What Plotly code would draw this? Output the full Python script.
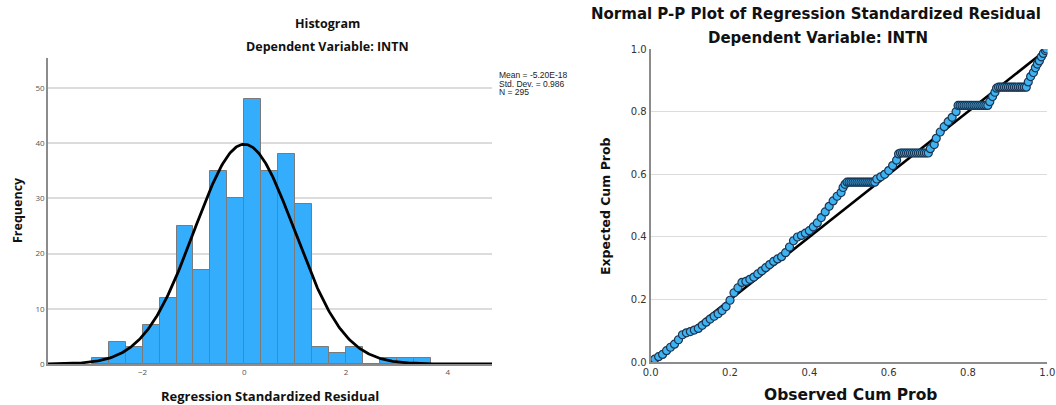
import numpy as np
import plotly.graph_objects as go

W, H = 1056, 405

# ---------------- Histogram data ----------------
bin_width = 1.0 / 3.0
bin_left_edges = [-3.0, -8/3, -7/3, -2.0, -5/3, -4/3, -1.0, -2/3, -1/3, 0.0,
                  1/3, 2/3, 1.0, 4/3, 5/3, 2.0, 7/3, 8/3, 3.0, 10/3]
frequency = [1, 4, 3, 7, 12, 25, 17, 35, 30, 48, 35, 38, 29, 3, 2, 3, 0, 1, 1, 1]
resid_mean = -5.20e-18
resid_sd = 0.986
n_obs = 295
hist_x_ticks = [-2, 0, 2, 4]
hist_y_ticks = [0, 10, 20, 30, 40, 50]
stats_lines = ["Mean = -5.20E-18", "Std. Dev. = 0.986", "N = 295"]

# ---------------- P-P plot data ----------------
pp_observed = [0.003, 0.01, 0.02, 0.03, 0.04, 0.05, 0.06, 0.07, 0.08, 0.09,
               0.10, 0.11, 0.12, 0.13, 0.14, 0.15, 0.16, 0.17, 0.18, 0.19,
               0.20, 0.21, 0.22, 0.23, 0.24, 0.25, 0.26, 0.27, 0.28, 0.29,
               0.30, 0.31, 0.32, 0.33, 0.34, 0.35, 0.36, 0.37, 0.38, 0.39,
               0.40, 0.41, 0.42, 0.43, 0.44, 0.45, 0.46, 0.47, 0.48, 0.485,
               0.49, 0.495, 0.50, 0.505, 0.51, 0.515, 0.52, 0.525, 0.53, 0.535,
               0.54, 0.545, 0.55, 0.555, 0.56, 0.565,
               0.57, 0.58, 0.59, 0.60, 0.61, 0.62, 0.625,
               0.63, 0.635, 0.64, 0.645, 0.65, 0.655, 0.66, 0.665, 0.67, 0.675,
               0.68, 0.685, 0.69, 0.695, 0.70,
               0.705, 0.715, 0.72, 0.73, 0.74, 0.75, 0.76, 0.77,
               0.775, 0.78, 0.785, 0.79, 0.795, 0.80, 0.805, 0.81, 0.815, 0.82,
               0.825, 0.83, 0.835, 0.84, 0.845, 0.85,
               0.855, 0.862, 0.868, 0.872,
               0.877, 0.882, 0.887, 0.892, 0.897, 0.902, 0.907, 0.912, 0.917,
               0.922, 0.927, 0.932, 0.937, 0.942, 0.947,
               0.952, 0.958, 0.965, 0.97, 0.975, 0.98, 0.985, 0.99, 0.995, 0.998]
pp_expected = [0.005, 0.010, 0.018, 0.025, 0.037, 0.048, 0.058, 0.072, 0.088, 0.094,
               0.098, 0.103, 0.108, 0.118, 0.128, 0.138, 0.147, 0.155, 0.165, 0.178,
               0.198, 0.222, 0.238, 0.255, 0.258, 0.265, 0.272, 0.282, 0.292, 0.302,
               0.312, 0.322, 0.330, 0.337, 0.350, 0.368, 0.388, 0.400, 0.405, 0.412,
               0.420, 0.432, 0.445, 0.462, 0.480, 0.498, 0.515, 0.530, 0.542, 0.558,
               0.568, 0.575, 0.575, 0.575, 0.575, 0.575, 0.575, 0.575, 0.575, 0.575,
               0.575, 0.575, 0.575, 0.575, 0.575, 0.575,
               0.585, 0.592, 0.600, 0.612, 0.628, 0.645, 0.665,
               0.668, 0.668, 0.668, 0.668, 0.668, 0.668, 0.668, 0.668, 0.668, 0.668,
               0.668, 0.668, 0.668, 0.668, 0.668,
               0.682, 0.695, 0.715, 0.735, 0.752, 0.768, 0.782, 0.800,
               0.820, 0.820, 0.820, 0.820, 0.820, 0.820, 0.820, 0.820, 0.820, 0.820,
               0.820, 0.820, 0.820, 0.820, 0.820, 0.820,
               0.832, 0.848, 0.862, 0.875,
               0.878, 0.878, 0.878, 0.878, 0.878, 0.878, 0.878, 0.878, 0.878,
               0.878, 0.878, 0.878, 0.878, 0.878, 0.878,
               0.895, 0.912, 0.925, 0.940, 0.952, 0.962, 0.975, 0.986, 0.995, 1.000]
pp_ticks = [0.0, 0.2, 0.4, 0.6, 0.8, 1.0]

# ---------------- helpers ----------------
def px(x):
    return x / W

def py(y):
    return 1 - y / H

HIST_FONT = "Open Sans"
PP_FONT = "DejaVu Sans"
AXIS_GRAY = "#8c8c8c"
GRID = "#dcdcdc"

fig = go.Figure()

# histogram bars
bar_centers = [e + bin_width / 2 for e in bin_left_edges]
fig.add_trace(go.Bar(
    x=bar_centers, y=frequency, width=bin_width,
    marker=dict(color="#33adfc", line=dict(color="#7a7a7a", width=1)),
    xaxis="x", yaxis="y", showlegend=False, hoverinfo="skip"))

# normal curve
hist_xrange = [-3.86, 4.87]
xc = np.linspace(hist_xrange[0], hist_xrange[1], 400)
yc = n_obs * bin_width * np.exp(-0.5 * ((xc - resid_mean) / resid_sd) ** 2) / (resid_sd * np.sqrt(2 * np.pi))
fig.add_trace(go.Scatter(x=xc, y=yc, mode="lines", line=dict(color="black", width=2.8),
                         xaxis="x", yaxis="y", showlegend=False, hoverinfo="skip"))

# P-P diagonal
fig.add_trace(go.Scatter(x=[0, 1], y=[0, 1], mode="lines", line=dict(color="black", width=2.6),
                         xaxis="x2", yaxis="y2", showlegend=False, hoverinfo="skip"))
# P-P points
fig.add_trace(go.Scatter(x=pp_observed, y=pp_expected, mode="markers",
                         marker=dict(size=8, color="#3fb2f2", line=dict(color="#1d3550", width=1.2)),
                         xaxis="x2", yaxis="y2", showlegend=False, hoverinfo="skip"))

fig.update_layout(
    width=W, height=H, margin=dict(l=0, r=0, t=0, b=0, autoexpand=False),
    paper_bgcolor="white", plot_bgcolor="white", bargap=0,
    xaxis=dict(domain=[px(48), px(492)], range=hist_xrange, tickvals=hist_x_ticks,
               showgrid=False, zeroline=False, showline=True, linecolor=AXIS_GRAY, linewidth=1.5,
               ticks="", automargin=False, tickfont=dict(family=HIST_FONT, size=8, color="#555"), anchor="y"),
    yaxis=dict(domain=[py(364), py(58)], range=[0, 55.4], tickvals=hist_y_ticks,
               showgrid=True, gridcolor=GRID, gridwidth=1.5, zeroline=False,
               showline=True, linecolor=AXIS_GRAY, linewidth=1.5, ticks="", automargin=False,
               tickfont=dict(family=HIST_FONT, size=8, color="#555"), anchor="x"),
    xaxis2=dict(domain=[px(650.7), px(1047.3)], range=[0, 1], tickvals=pp_ticks, tickformat=".1f",
                showgrid=False, zeroline=False, showline=True, linecolor=AXIS_GRAY, linewidth=2,
                ticks="", automargin=False, tickfont=dict(family=PP_FONT, size=10, color="#333"), anchor="y2"),
    yaxis2=dict(domain=[py(362.3), py(49)], range=[0, 1], tickvals=pp_ticks, tickformat=".1f",
                showgrid=True, gridcolor=GRID, gridwidth=1.2, zeroline=False,
                showline=True, linecolor=AXIS_GRAY, linewidth=2, ticks="", automargin=False,
                tickfont=dict(family=PP_FONT, size=10, color="#333"), anchor="x2"),
)

ann = []
def text(x, y, s, size, family, bold=True, angle=0, xanchor="center", yanchor="middle", color="#111"):
    ann.append(dict(x=px(x), y=py(y), xref="paper", yref="paper", text=(f"<b>{s}</b>" if bold else s),
                    showarrow=False, font=dict(family=family, size=size, color=color),
                    textangle=angle, xanchor=xanchor, yanchor=yanchor, align="left"))

# histogram texts
text(327, 23, "Histogram", 12.5, HIST_FONT)
text(327, 47, "Dependent Variable: INTN", 12.5, HIST_FONT)
text(270, 396, "Regression Standardized Residual", 13, HIST_FONT)
text(17, 210, "Frequency", 12.5, HIST_FONT, angle=-90)
for i, line in enumerate(stats_lines):
    text(497, 75 + 8.5 * i, line, 8.5, "Liberation Sans", bold=False, xanchor="left", color="#222")

# P-P texts
text(816, 14, "Normal P-P Plot of Regression Standardized Residual", 15, PP_FONT)
text(818, 38, "Dependent Variable: INTN", 15, PP_FONT)
text(850, 395, "Observed Cum Prob", 15.5, PP_FONT)
text(605, 206, "Expected Cum Prob", 12.5, PP_FONT, angle=-90)

fig.update_layout(annotations=ann)
fig.write_html("out.html", config={"displayModeBar": False},
               post_script="document.body.style.margin='0';document.body.style.overflow='hidden';")
